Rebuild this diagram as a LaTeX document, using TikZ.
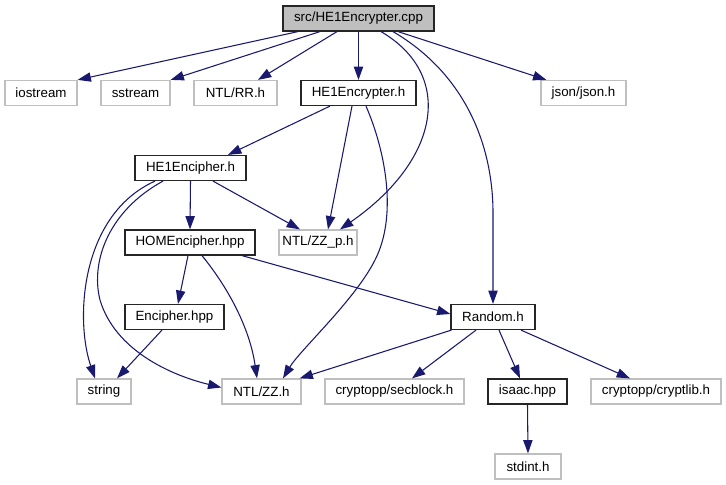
\documentclass[tikz,border=0pt]{standalone}
\usepackage{fontspec}
\setmainfont{Liberation Sans}
\usetikzlibrary{arrows.meta,calc}
\definecolor{edgeblue}{HTML}{191970}
\definecolor{greyline}{HTML}{BFBFBF}
\begin{document}
\begin{tikzpicture}[x=0.75pt,y=-0.75pt,
  box/.style={draw, rectangle, inner sep=0pt, minimum height=18.75pt, font=\fontsize{10}{12}\selectfont, line width=0.9pt},
  docbox/.style={box, draw=black!85},
  extbox/.style={box, draw=greyline},
  rootbox/.style={box, draw=black!85, fill=greyline},
  wd/.style={minimum width=#1*0.75pt},
  edge/.style={draw=edgeblue, line width=0.8pt, -{Triangle[length=10pt,width=7pt]}}]
\useasboundingbox (0,0) rectangle (726,485);
% nodes
\node[rootbox, wd=151] (root) at (358.5,18.5) {src/HE1Encrypter.cpp};
\node[extbox, wd=72] (iostream) at (41,93) {iostream};
\node[extbox, wd=69] (sstream) at (135.5,93) {sstream};
\node[extbox, wd=83] (rr) at (235.5,93) {NTL/RR.h};
\node[docbox, wd=115] (enc) at (358.5,93) {HE1Encrypter.h};
\node[extbox, wd=85] (json) at (583.5,93) {json/json.h};
\node[docbox, wd=111] (encipher) at (190.5,168) {HE1Encipher.h};
\node[docbox, wd=130] (homenc) at (190,242.5) {HOMEncipher.hpp};
\node[extbox, wd=78] (zzp) at (318,242.5) {NTL/ZZ\_p.h};
\node[docbox, wd=99] (encipherhpp) at (174.5,317) {Encipher.hpp};
\node[docbox, wd=84] (random) at (493,317) {Random.h};
\node[extbox, wd=54] (string) at (104,391.5) {string};
\node[extbox, wd=79] (zz) at (261.5,391.5) {NTL/ZZ.h};
\node[extbox, wd=139] (secblock) at (394.5,391.5) {cryptopp/secblock.h};
\node[docbox, wd=79] (isaac) at (527.5,391.5) {isaac.hpp};
\node[extbox, wd=130] (cryptlib) at (656,391.5) {cryptopp/cryptlib.h};
\node[extbox, wd=66] (stdint) at (528,466.5) {stdint.h};
% edges from root
\draw[edge] ($(root.south)+(-60.5,0)$) -- (iostream.north east);
\draw[edge] ($(root.south)+(-38.5,0)$) -- (sstream.north east);
\draw[edge] ($(root.south)+(-21.5,0)$) -- ($(rr.north)+(22.5,0)$);
\draw[edge] (root.south) -- (enc.north);
\draw[edge] ($(root.south)+(39.5,0)$) -- ($(json.north west)+(6,0)$);
\draw[edge] ($(root.south)+(22.5,0)$) .. controls (455,75) and (440,160) .. ($(zzp.north)+(22,0)$);
\draw[edge] ($(root.south)+(34.5,0)$) .. controls (462,72) and (492,140) .. (493,210) -- (random.north);
% edges from HE1Encrypter.h
\draw[edge] ($(enc.south)+(-28.5,0)$) -- ($(encipher.north)+(37.5,0)$);
\draw[edge] ($(enc.south)+(-6.5,0)$) -- ($(zzp.north)+(10,0)$);
\draw[edge] ($(enc.south)+(7.5,0)$) .. controls (385,150) and (398,215) .. (375,260)
  .. controls (355,300) and (300,350) .. ($(zz.north)+(21.5,0)$);
% edges from HE1Encipher.h
\draw[edge] (encipher.south) -- (homenc.north);
\draw[edge] ($(encipher.south)+(22.5,0)$) -- ($(zzp.north)+(-18,0)$);
\draw[edge] ($(encipher.south)+(-35.5,0)$) .. controls (80,215) and (75,320) .. ($(string.north)+(-9,0)$);
\draw[edge] ($(encipher.south)+(-27.5,0)$) .. controls (110,210) and (90,260) .. (100,300)
  .. controls (115,350) and (170,375) .. ($(zz.west)+(0,-4)$);
% edges from HOMEncipher.hpp
\draw[edge] ($(homenc.south)+(-2,0)$) -- ($(encipherhpp.north)+(3.5,0)$);
\draw[edge] ($(homenc.south)+(12,0)$) .. controls (230,290) and (250,330) .. ($(zz.north)+(-4.5,0)$);
\draw[edge] ($(homenc.south)+(52,0)$) -- ($(random.west)+(0,-3)$);
% edges from Encipher.hpp
\draw[edge] ($(encipherhpp.south)+(-12.5,0)$) -- ($(string.north)+(13,0)$);
% edges from Random.h
\draw[edge] ($(random.south west)+(1,0)$) -- ($(zz.north east)+(-2,0)$);
\draw[edge] ($(random.south)+(-17,0)$) -- ($(secblock.north)+(17.5,0)$);
\draw[edge] ($(random.south)+(6,0)$) -- ($(isaac.north)+(-7.5,0)$);
\draw[edge] ($(random.south)+(28,0)$) -- ($(cryptlib.north)+(-26,0)$);
% edges from isaac.hpp
\draw[edge] (isaac.south) -- (stdint.north);
\end{tikzpicture}
\end{document}
